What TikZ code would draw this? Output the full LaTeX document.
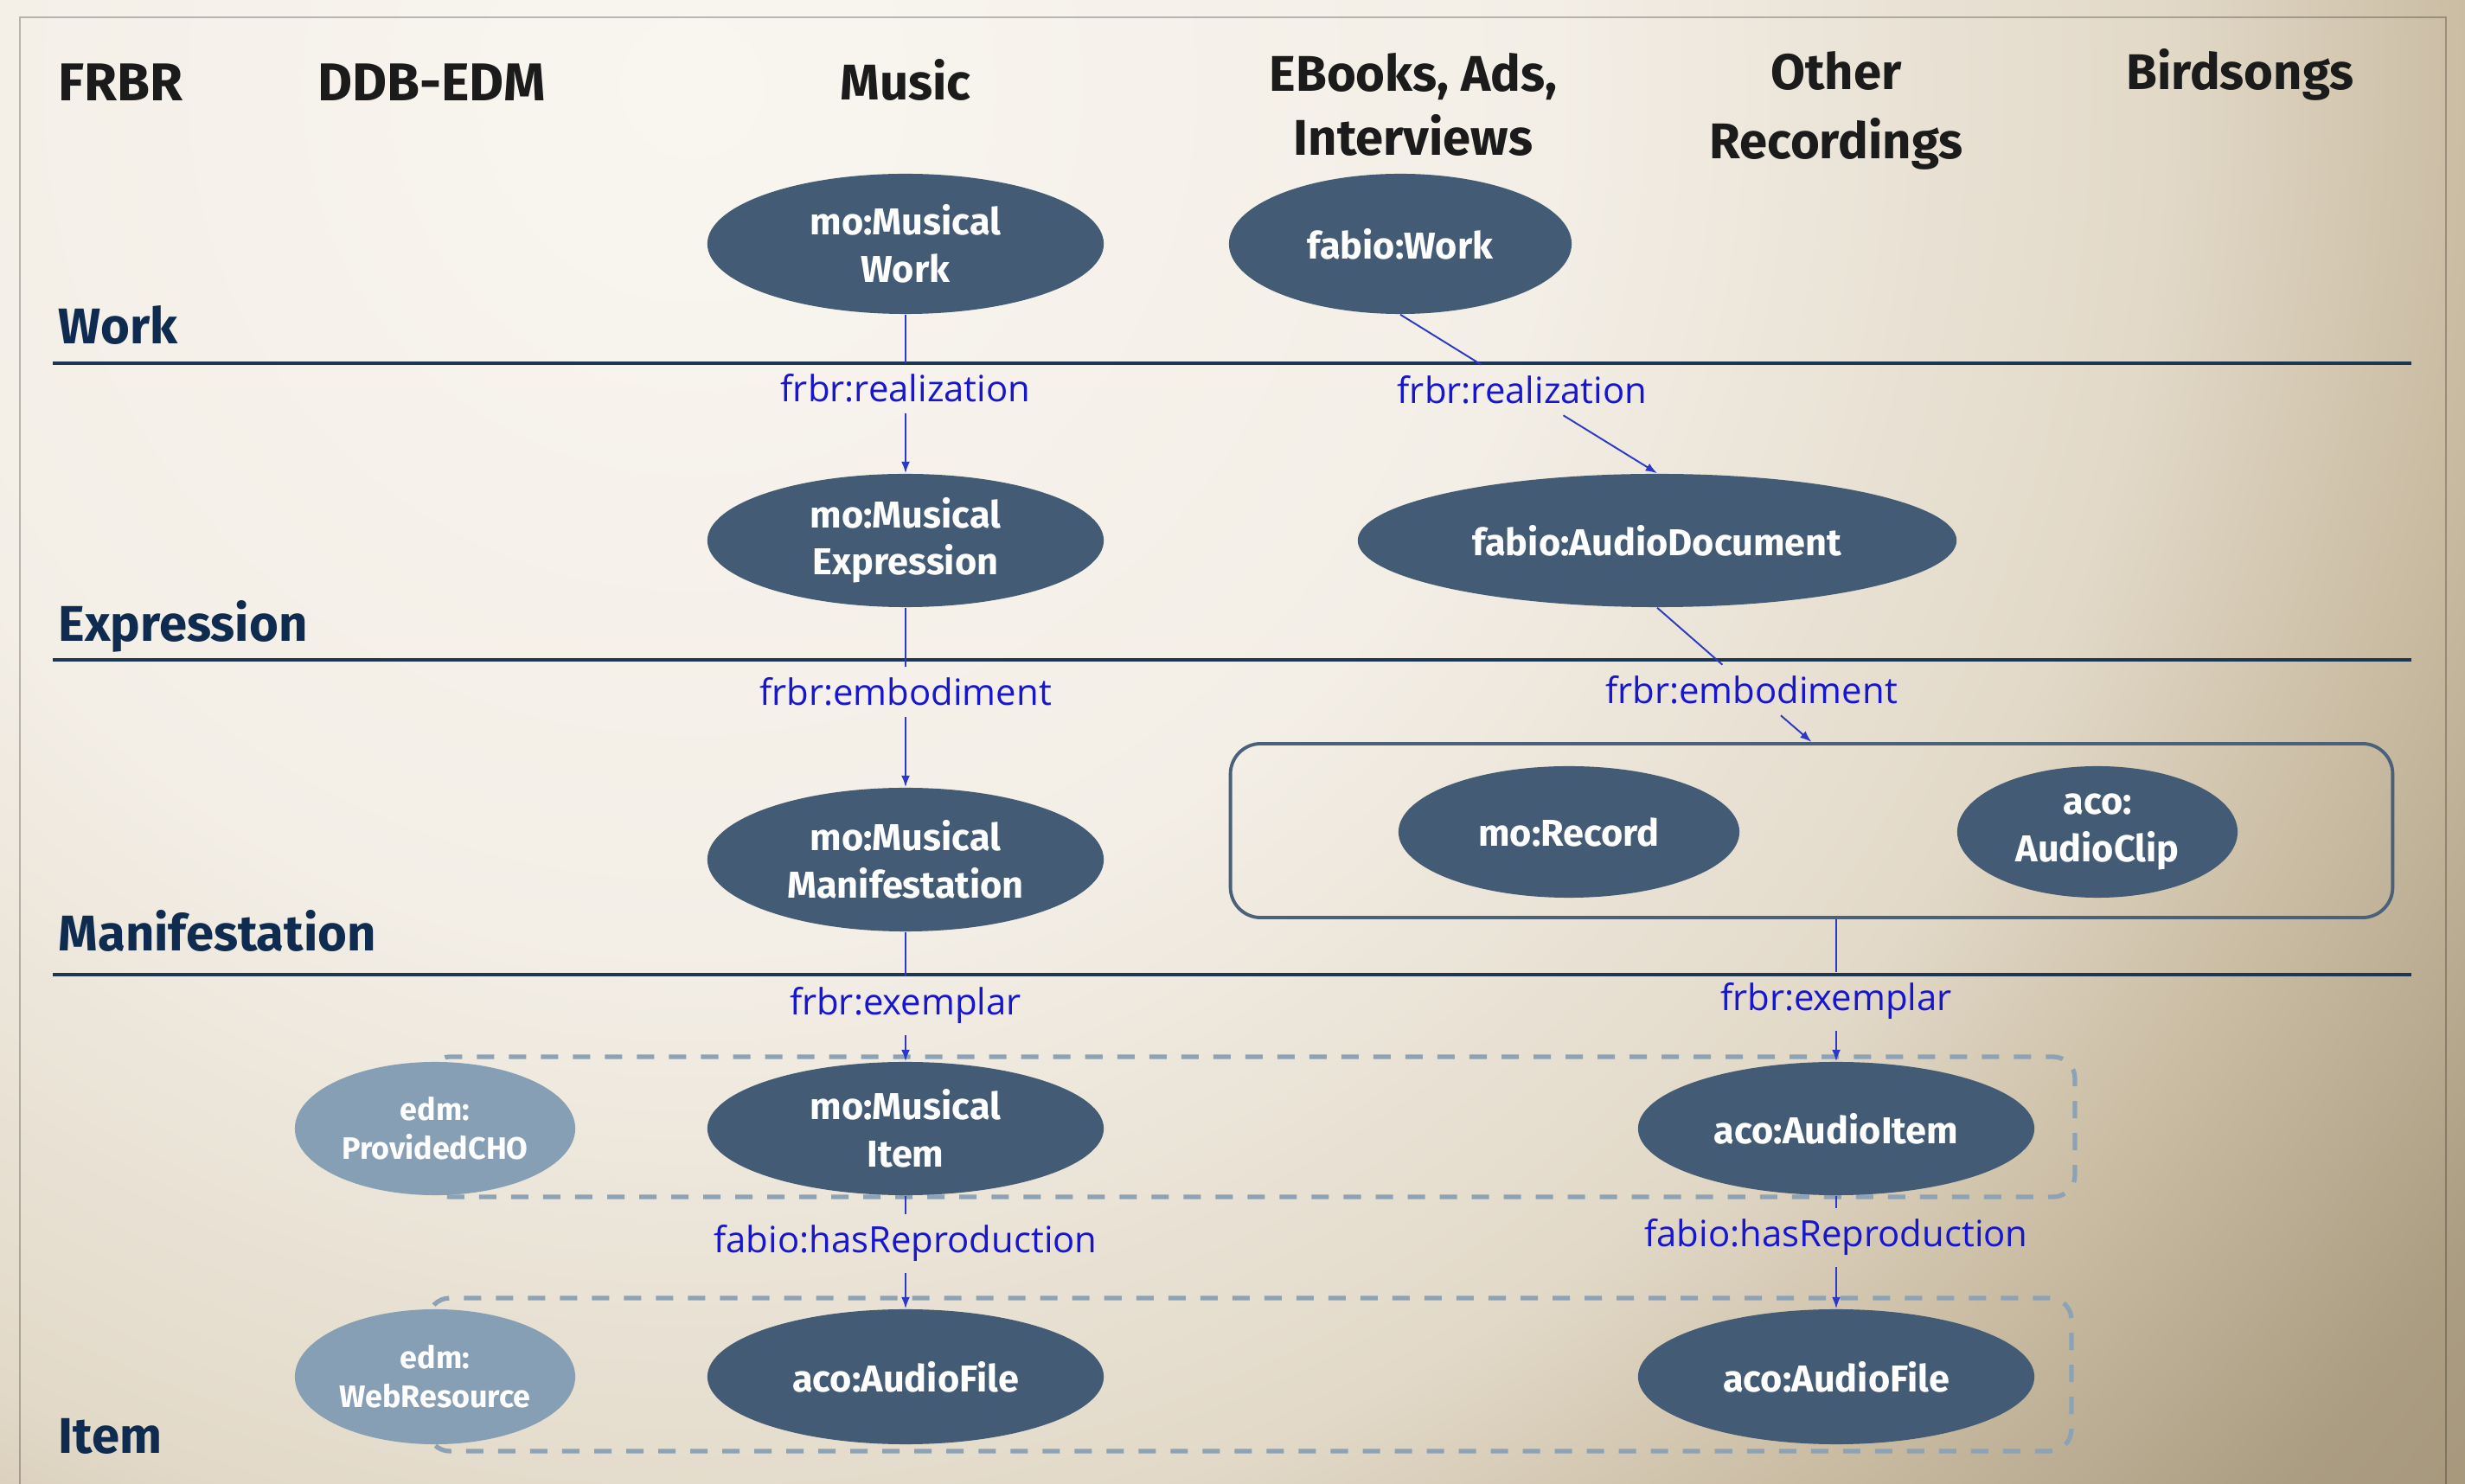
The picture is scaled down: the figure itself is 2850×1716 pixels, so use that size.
\documentclass[tikz,border=0pt]{standalone}
\usepackage{fontspec}
\setmainfont{Fira Sans}
\newfontfamily\lblfont{Open Sans}
\usetikzlibrary{arrows.meta,shapes.geometric,calc}

\definecolor{nodefill}{HTML}{435B74}
\definecolor{nodelight}{HTML}{869FB5}
\definecolor{rowlbl}{HTML}{0F2B4F}
\definecolor{headtxt}{HTML}{1B1B1B}
\definecolor{sepline}{HTML}{1D3652}
\definecolor{edgeblue}{HTML}{2B38C8}
\definecolor{lblblue}{HTML}{1616D0}
\definecolor{dashc}{HTML}{8DA2B5}
\definecolor{boxc}{HTML}{4A6179}
\definecolor{bgc0}{HTML}{F9F6F0}
\definecolor{bgc1}{HTML}{F3EEE6}
\definecolor{bgc2}{HTML}{E2D9C8}
\definecolor{bgc3}{HTML}{CBBDA4}
\definecolor{bgc4}{HTML}{AB9D82}
\definecolor{bgc5}{HTML}{A5967A}
\pgfdeclareradialshading{bgshade}{\pgfpoint{0bp}{0bp}}{color(0bp)=(bgc0); color(9.26bp)=(bgc1); color(15.74bp)=(bgc2); color(18.98bp)=(bgc3); color(22.69bp)=(bgc4); color(25bp)=(bgc5); color(50bp)=(bgc5)}

\begin{document}
\begin{tikzpicture}[x=0.01cm, y=-0.01cm,
  header/.style={font=\fontsize{16.5}{21.3}\selectfont\bfseries, text=headtxt, inner sep=0pt, align=center},
  rowlabel/.style={font=\fontsize{16.5}{20}\selectfont\bfseries, text=rowlbl, inner sep=0pt, anchor=base west},
  cls/.style={ellipse, fill=nodefill, text=white, inner sep=0pt, font=\fontsize{12.3}{15.5}\selectfont\bfseries, align=center},
  clslight/.style={cls, fill=nodelight, font=\fontsize{10.2}{12.9}\selectfont\bfseries},
  rel/.style={font=\lblfont\fontsize{11.9}{14}\selectfont, text=lblblue, inner sep=3.5pt},
  conn/.style={draw=edgeblue, line width=0.55pt},
  arr/.style={conn, -{Latex[length=3.8pt,width=2.8pt]}},
  sepl/.style={draw=sepline, line width=1.1pt},
  grp/.style={draw=dashc, line width=1.5pt, dash pattern=on 0.2cm off 0.17cm, rounded corners=0.25cm},
]
\useasboundingbox (0,0) rectangle (2850,1716);
% background
\begin{scope}
  \clip (0,0) rectangle (2850,1716);
  \shade[shading=bgshade] (800,100) circle (27cm);
  \draw[black, opacity=0.25, line width=0.8pt] (23,1716) -- (23,20) -- (2828,20) -- (2828,1716);
\end{scope}

% headers
\node[header, anchor=base west, font=\fontsize{17.5}{21.3}\selectfont\bfseries] (hfrbr) at (67,117) {FRBR};
\node[header, anchor=base, font=\fontsize{17.5}{21.3}\selectfont\bfseries] (hddb) at (499,117) {DDB-EDM};
\node[header, anchor=base] (hmusic) at (1047,116) {Music};
\node[header, anchor=base] (hebook) at (1634,180) {EBooks, Ads,\\Interviews};
\node[header, anchor=base, font=\fontsize{16.5}{23}\selectfont\bfseries] (hother) at (2123,184) {Other\\Recordings};
\node[header, anchor=base] (hbird) at (2590,104) {Birdsongs};

% row labels
\node[rowlabel] (rwork) at (67,398) {Work};
\node[rowlabel] (rexpr) at (67,742) {Expression};
\node[rowlabel] (rmani) at (67,1100) {Manifestation};
\node[rowlabel] (ritem) at (67,1680) {Item};

% separator lines
\draw[sepl] (61,420) -- (2788,420);
\draw[sepl] (61,763) -- (2788,763);
\draw[sepl] (61,1127) -- (2788,1127);

% dashed groups
\draw[grp] (495,1222) rectangle (2399,1384);
\draw[grp] (495,1501) rectangle (2395,1678);

% container
\node[draw=boxc, line width=1.1pt, rounded corners=0.35cm, minimum width=13.43cm, minimum height=2.01cm, inner sep=0pt] (rc) at (2094.5,960.5) {};

% classes
\node[cls, minimum width=4.58cm, minimum height=1.62cm] (mw) at (1047,282) {mo:Musical\\Work};
\node[cls, minimum width=3.96cm, minimum height=1.62cm] (fw) at (1619,282) {fabio:Work};
\node[cls, minimum width=4.58cm, minimum height=1.54cm] (me) at (1047,625) {mo:Musical\\Expression};
\node[cls, minimum width=6.92cm, minimum height=1.54cm] (fad) at (1916,625) {fabio:AudioDocument};
\node[cls, minimum width=4.58cm, minimum height=1.66cm] (mm) at (1047,994) {mo:Musical\\Manifestation};
\node[cls, minimum width=3.94cm, minimum height=1.52cm] (rec) at (1814,962) {mo:Record};
\node[cls, minimum width=3.24cm, minimum height=1.52cm] (clip) at (2425,962) {aco:\\AudioClip};
\node[clslight, minimum width=3.24cm, minimum height=1.54cm] (cho) at (503,1305) {edm:\\ProvidedCHO};
\node[cls, minimum width=4.58cm, minimum height=1.54cm] (mi) at (1047,1305) {mo:Musical\\Item};
\node[cls, minimum width=4.58cm, minimum height=1.54cm] (ai) at (2123,1305) {aco:AudioItem};
\node[clslight, minimum width=3.24cm, minimum height=1.56cm] (wr) at (503,1592) {edm:\\WebResource};
\node[cls, minimum width=4.58cm, minimum height=1.56cm] (af1) at (1047,1592) {aco:AudioFile};
\node[cls, minimum width=4.58cm, minimum height=1.56cm] (af2) at (2123,1592) {aco:AudioFile};

% relation labels
\node[rel] (l1) at (1047,449) {frbr:realization};
\node[rel] (l2) at (1760,451) {frbr:realization};
\node[rel] (l3) at (1047,800) {frbr:embodiment};
\node[rel] (l4) at (2025,798) {frbr:embodiment};
\node[rel] (l5) at (1047,1163) {frbr:exemplar};
\node[rel] (l6) at (2123,1158) {frbr:exemplar};
\node[rel] (l7) at (1047,1438) {fabio:hasReproduction};
\node[rel] (l8) at (2123,1431) {fabio:hasReproduction};

% connectors
\draw[conn] (mw.south) -- (l1);  \draw[arr] (l1) -- (me.north);
\draw[conn] (fw.south) -- (l2);  \draw[arr] (l2) -- (fad.north);
\draw[conn] (me.south) -- (l3);  \draw[arr] (l3) -- (mm.north);
\draw[conn] (fad.south) -- (l4); \draw[arr] (l4) -- (rc.north);
\draw[conn] (mm.south) -- (l5);  \draw[arr] (l5) -- (mi.north);
\draw[conn] (rc.south -| ai.north) -- (l6); \draw[arr] (l6) -- (ai.north);
\draw[conn] (mi.south) -- (l7);  \draw[arr] (l7) -- (af1.north);
\draw[conn] (ai.south) -- (l8);  \draw[arr] (l8) -- (af2.north);
\end{tikzpicture}
\end{document}
